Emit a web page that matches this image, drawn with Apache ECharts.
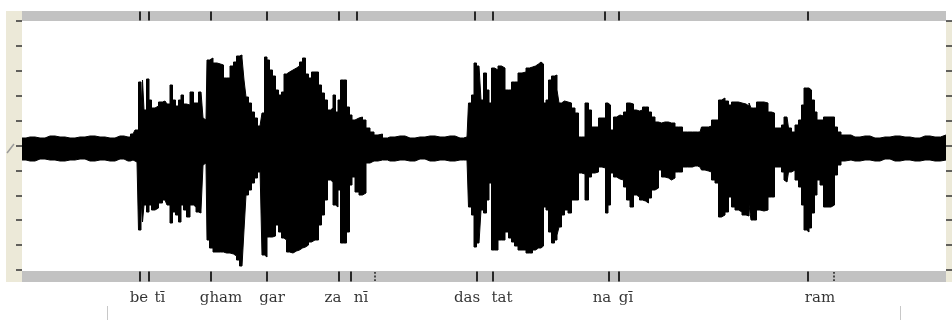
<!DOCTYPE html>
<html>
<head>
<meta charset="utf-8">
<script src="https://cdn.jsdelivr.net/npm/echarts@6/dist/echarts.min.js"></script>
<style>
html,body{margin:0;padding:0;background:#fff;}
#chart{width:952px;height:320px;}
</style>
</head>
<body>
<div id="chart"></div>
<script>
// sample positions along the recording
const t = [22,30,40,50,60,70,80,90,100,110,120,128,133,137,140,142,143,145,148,150,153,157,160,165,169,171,174,177,180,182,185,188,192,195,197,200,202,204,206,208,211,215,219,222,225,228,232,235,238,241,243,245,247,250,253,256,259,261,263,266,268,271,274,277,280,283,285,288,291,295,298,301,304,307,310,313,317,320,323,326,329,332,334,337,339,342,345,348,351,353,357,361,364,368,372,376,380,385,390,400,410,420,430,440,450,460,467,470,473,475,478,480,482,485,488,490,493,496,500,503,507,510,513,516,520,524,528,531,534,537,540,542,545,547,550,553,556,558,560,563,566,570,573,577,580,583,587,590,593,597,600,604,607,609,612,615,618,622,625,628,632,635,638,641,644,647,650,653,657,660,663,667,670,673,677,680,685,690,695,700,703,707,710,713,717,720,723,727,730,733,737,740,744,748,750,752,755,758,762,766,770,773,776,780,783,785,787,790,793,797,800,803,805,808,810,813,816,818,822,825,829,833,836,839,843,847,855,865,875,885,895,905,915,925,935,946];
// upper envelope of the waveform
const upper = [10,11,10,12,11,10,11,12,11,10,12,11,14,18,66,40,68,38,69,48,40,42,46,47,44,63,48,42,48,53,44,43,56,45,45,56,55,30,28,88,90,85,84,83,70,70,82,86,92,93,90,68,51,45,36,30,22,20,35,91,88,78,72,58,53,56,74,76,78,80,82,86,90,74,70,76,76,63,55,48,38,40,53,36,48,68,68,41,33,28,30,31,28,20,16,13,14,10,11,12,10,11,12,11,12,10,11,45,53,85,82,84,48,75,58,45,80,78,82,80,58,58,66,66,75,76,80,81,82,84,86,84,45,48,68,72,73,58,45,47,46,45,40,35,11,11,45,38,21,21,30,30,45,43,18,31,33,32,36,45,44,38,37,38,41,41,36,31,26,25,26,26,25,25,21,21,16,16,16,16,21,21,22,28,28,48,50,47,43,46,46,45,44,42,45,40,40,46,46,45,36,35,20,20,23,31,31,20,16,23,28,43,60,60,58,48,36,28,28,31,31,31,21,16,13,13,11,12,10,11,12,11,10,12,11,13];
// lower envelope of the waveform
const lower = [-12,-13,-11,-12,-13,-12,-11,-13,-12,-13,-11,-13,-12,-14,-82,-52,-74,-57,-64,-57,-62,-60,-55,-52,-57,-75,-64,-67,-74,-57,-62,-69,-57,-59,-64,-65,-62,-17,-15,-92,-100,-104,-104,-104,-105,-105,-106,-108,-112,-118,-120,-82,-47,-42,-35,-30,-24,-20,-107,-109,-89,-89,-88,-77,-84,-90,-92,-104,-105,-103,-102,-100,-99,-97,-94,-92,-92,-77,-67,-52,-32,-34,-57,-59,-42,-95,-95,-84,-37,-29,-44,-47,-45,-15,-13,-13,-12,-12,-13,-12,-13,-11,-13,-12,-13,-12,-12,-59,-67,-99,-95,-97,-62,-65,-52,-35,-102,-102,-92,-92,-84,-90,-94,-98,-102,-102,-105,-105,-102,-100,-100,-98,-59,-62,-84,-95,-92,-87,-79,-67,-62,-65,-52,-52,-25,-26,-52,-29,-25,-24,-19,-20,-65,-57,-25,-29,-31,-32,-39,-52,-59,-47,-49,-52,-53,-55,-50,-42,-40,-22,-29,-30,-32,-30,-24,-24,-19,-19,-18,-19,-22,-23,-24,-32,-35,-69,-67,-64,-49,-59,-62,-64,-67,-68,-57,-72,-72,-62,-63,-62,-49,-49,-19,-19,-24,-32,-34,-24,-22,-32,-39,-57,-82,-84,-80,-65,-47,-32,-37,-59,-59,-57,-27,-17,-13,-12,-13,-12,-13,-11,-13,-12,-13,-12,-13,-12];
// syllable boundary marks
const topMarks = [140,149,211,267,339,357,475,493,605,619,808];
const bottomMarks = [140,149,211,267,339,351,477,493,609,619,808];
const bottomDotted = [375,834];
// syllable labels
const syllables = ['be','tī','gham','gar','za','nī','das','tat','na','gī','ram'];
const syllablePos = [139,160,221,272,333,361,467,502,602,626,820];

const X0 = 22, X1 = 946;
const upperData = t.map((x,i)=>[x, upper[i]]);
const lowerData = t.map((x,i)=>[x, lower[i]]);

const chart = echarts.init(document.getElementById('chart'), null, {renderer:'canvas'});
const xa = (g)=>({type:'value', gridIndex:g, min:X0, max:X1, show:false});
const waveSeries = (data)=>({type:'line', xAxisIndex:0, yAxisIndex:0, data:data,
  symbol:'none', step:'middle', lineStyle:{width:1, color:'#000'},
  areaStyle:{color:'#000', opacity:1, origin:0}, silent:true});
const option = {
  animation:false,
  backgroundColor:'#ffffff',
  grid:[
    {left:22, right:6, top:21, height:249, show:false},
    {left:22, right:6, top:11, height:10, show:true, backgroundColor:'#c2c2c2', borderWidth:0},
    {left:22, right:6, top:271, height:11, show:true, backgroundColor:'#c2c2c2', borderWidth:0},
    {left:22, right:6, top:288, height:20, show:false}
  ],
  xAxis:[xa(0),xa(1),xa(2),xa(3)],
  yAxis:[
    {type:'value', gridIndex:0, min:-122, max:127, show:false},
    {type:'value', gridIndex:0, position:'left', min:-5, max:5, interval:1,
      axisLine:{show:false}, axisLabel:{show:false}, splitLine:{show:false},
      axisTick:{show:true, length:6, lineStyle:{color:'#333', width:1.5}}},
    {type:'value', gridIndex:0, position:'right', min:-5, max:5, interval:1,
      axisLine:{show:false}, axisLabel:{show:false}, splitLine:{show:false},
      axisTick:{show:true, length:6, lineStyle:{color:'#333', width:1.5}}},
    {type:'value', gridIndex:1, min:0, max:1, show:false},
    {type:'value', gridIndex:2, min:0, max:1, show:false},
    {type:'value', gridIndex:3, min:0, max:1, show:false}
  ],
  graphic:[
    {type:'rect', z:-1, shape:{x:6, y:11, width:16, height:271}, style:{fill:'#ece9d8'}},
    {type:'rect', z:-1, shape:{x:946, y:21, width:6, height:261}, style:{fill:'#ece9d8'}},
    {type:'polyline', shape:{points:[[7,153],[14,144]]}, style:{stroke:'#9a9a9a', lineWidth:1.5}},
    {type:'line', shape:{x1:107.5, y1:306, x2:107.5, y2:320}, style:{stroke:'#c8c8c8', lineWidth:1}},
    {type:'line', shape:{x1:900.5, y1:306, x2:900.5, y2:320}, style:{stroke:'#c8c8c8', lineWidth:1}}
  ],
  series:[
    waveSeries(upperData),
    waveSeries(lowerData),
    {type:'scatter', xAxisIndex:1, yAxisIndex:3, data:topMarks.map(x=>[x,0.5]),
      symbol:'rect', symbolSize:[2,9], itemStyle:{color:'#000'}, silent:true},
    {type:'scatter', xAxisIndex:2, yAxisIndex:4, data:bottomMarks.map(x=>[x,0.5]),
      symbol:'rect', symbolSize:[2,10], itemStyle:{color:'#000'}, silent:true},
    {type:'scatter', xAxisIndex:2, yAxisIndex:4, data:bottomDotted.map(x=>[x,0.5]),
      symbol:'path://M0,0h2v2h-2zM0,4h2v2h-2zM0,8h2v2h-2z', symbolSize:[1.6,9], itemStyle:{color:'#000'}, silent:true},
    {type:'scatter', xAxisIndex:3, yAxisIndex:5,
      data:syllables.map((s,i)=>({name:s, value:[syllablePos[i],0.5]})),
      symbolSize:1, itemStyle:{color:'rgba(0,0,0,0)'}, silent:true,
      label:{show:true, position:'inside', formatter:'{b}', color:'#000',
        fontFamily:'DejaVu Serif', fontSize:15}}
  ]
};
chart.setOption(option);
</script>
</body>
</html>
